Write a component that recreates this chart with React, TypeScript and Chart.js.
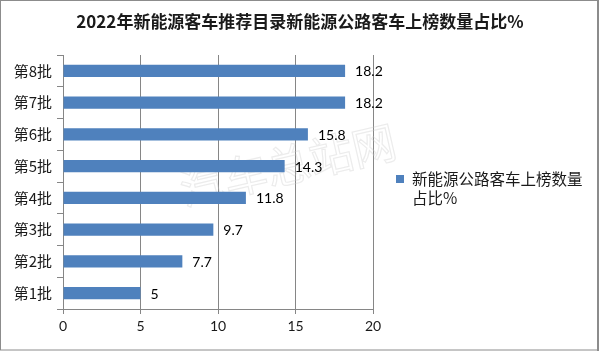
import React, { useEffect, useRef } from "react";
import { Chart, registerables } from "chart.js";

Chart.register(...registerables);

const titleText = "2022年新能源客车推荐目录新能源公路客车上榜数量占比%";
const categories = ["第8批", "第7批", "第6批", "第5批", "第4批", "第3批", "第2批", "第1批"];
const values = [18.2, 18.2, 15.8, 14.3, 11.8, 9.7, 7.7, 5];
const legendLines = ["新能源公路客车上榜数量", "占比%"];
const watermark = "汽车总站网";
const xMin = 0;
const xMax = 20;
const xStep = 5;

const BAR = "#4F81BD";
const GRID = "#868686";
const TEXT = "#1a1a1a";
const CJK = '"Noto Sans CJK SC", sans-serif';
const NUM = 'Lato, "Liberation Sans", sans-serif';

export default function App() {
  const ref = useRef<HTMLCanvasElement | null>(null);

  useEffect(() => {
    const canvas = ref.current;
    if (!canvas) return;

    const decor = {
      id: "decor",
      beforeDatasetsDraw(chart: any) {
        const ctx = chart.ctx;
        ctx.save();
        ctx.translate(288, 165);
        ctx.rotate(-13 * Math.PI / 180);
        ctx.font = `44px ${CJK}`;
        ctx.textAlign = "center";
        ctx.textBaseline = "middle";
        ctx.strokeStyle = "rgba(200,200,200,0.35)";
        ctx.lineWidth = 1.2;
        ctx.strokeText(watermark, 0, 0);
        ctx.restore();
      },
      afterDatasetsDraw(chart: any) {
        const ctx = chart.ctx;
        const meta = chart.getDatasetMeta(0);
        ctx.save();
        ctx.font = `14px ${NUM}`;
        ctx.fillStyle = "#000";
        ctx.textAlign = "left";
        ctx.textBaseline = "middle";
        meta.data.forEach((el: any, i: number) => {
          ctx.fillText(String(values[i]), el.x + 10, el.y + 1);
        });
        ctx.restore();
      },
      afterDraw(chart: any) {
        const ctx = chart.ctx;
        ctx.save();
        // title
        ctx.font = `bold 17px ${CJK}`;
        ctx.fillStyle = TEXT;
        ctx.textAlign = "center";
        ctx.textBaseline = "middle";
        ctx.fillText(titleText, 300, 22);
        // legend
        ctx.fillStyle = BAR;
        ctx.fillRect(396, 175, 8, 8);
        ctx.font = `15.5px ${CJK}`;
        ctx.fillStyle = TEXT;
        ctx.textAlign = "left";
        ctx.fillText(legendLines[0], 412, 179);
        ctx.fillText(legendLines[1], 412, 198);
        // outer border
        ctx.strokeStyle = "#8c8c8c";
        ctx.lineWidth = 1;
        ctx.strokeRect(0.5, 0.5, 597.5, 349.5);
        ctx.lineWidth = 2;
        ctx.beginPath();
        ctx.moveTo(598, 0);
        ctx.lineTo(598, 351);
        ctx.stroke();
        ctx.restore();
      },
    };

    const chart = new Chart(canvas, {
      type: "bar",
      data: {
        labels: categories,
        datasets: [
          {
            label: legendLines.join(""),
            data: values,
            backgroundColor: BAR,
            borderWidth: 0,
            categoryPercentage: 1,
            barPercentage: 0.38,
          },
        ],
      },
      options: {
        indexAxis: "y",
        animation: false,
        responsive: false,
        devicePixelRatio: 1,
        layout: { padding: { top: 55, right: 227, left: 0, bottom: 0 } },
        plugins: {
          legend: { display: false },
          title: { display: false },
          tooltip: { enabled: false },
        },
        scales: {
          x: {
            type: "linear",
            min: xMin,
            max: xMax,
            ticks: {
              stepSize: xStep,
              font: { family: NUM, size: 14 },
              color: TEXT,
              padding: 4,
            },
            grid: {
              color: GRID,
              lineWidth: 1,
              tickLength: 5,
              drawOnChartArea: true,
            },
            border: { display: true, color: GRID, width: 1 },
            afterFit(scale: any) {
              scale.height = 42;
            },
          },
          y: {
            type: "category",
            ticks: {
              font: { family: CJK, size: 15 },
              color: TEXT,
              padding: 5,
            },
            grid: {
              offset: true,
              drawOnChartArea: false,
              color: GRID,
              tickLength: 6,
            },
            border: { display: true, color: GRID, width: 1 },
            afterFit(scale: any) {
              scale.width = 63;
            },
          },
        },
      },
      plugins: [decor],
    });

    return () => chart.destroy();
  }, []);

  return (
    <div style={{ position: "fixed", left: 0, top: 0, width: 600, height: 351, background: "#fff" }}>
      <canvas ref={ref} width={600} height={351} style={{ display: "block", width: 600, height: 351 }} />
    </div>
  );
}
